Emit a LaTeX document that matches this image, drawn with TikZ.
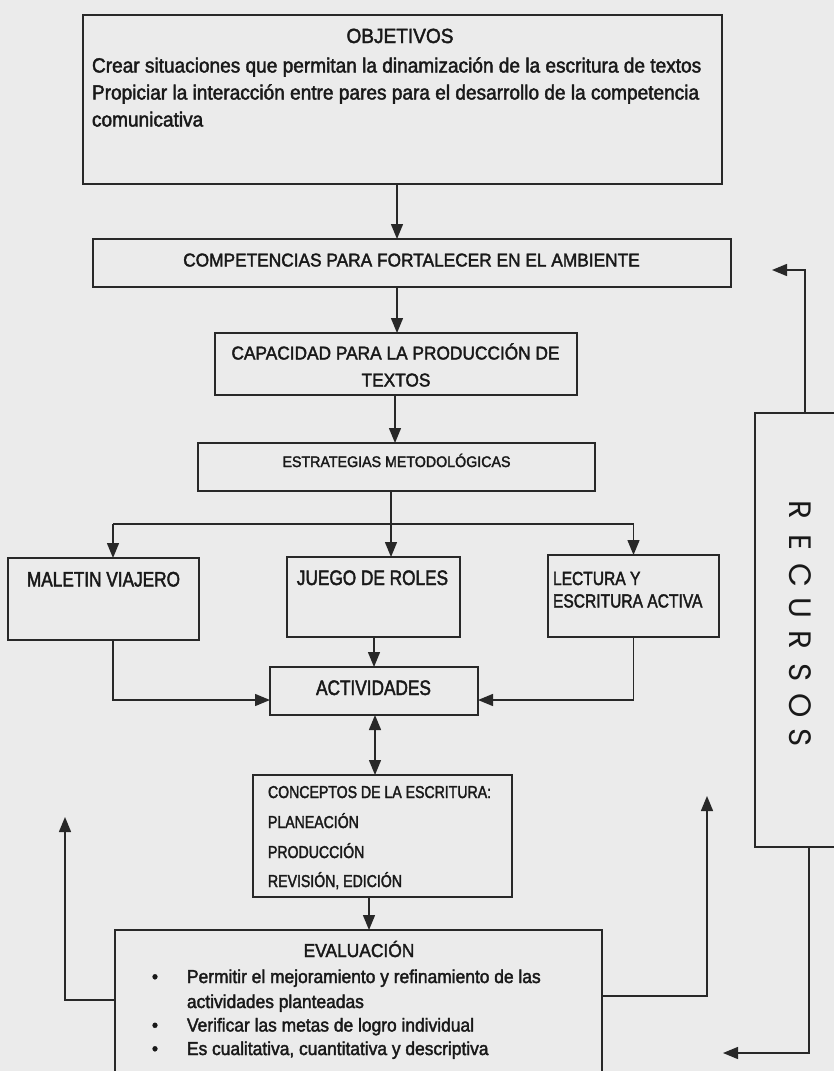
\documentclass[tikz,border=0pt]{standalone}
\usepackage{fontspec}
\setmainfont{Liberation Sans}[FakeStretch=0.93, FakeBold=2]
\newfontfamily\narrowf{Liberation Sans}[FakeStretch=0.82, FakeBold=2]
\newfontfamily\recfont{Poppins}
\usetikzlibrary{arrows.meta}
\definecolor{bg}{RGB}{235,235,235}
\definecolor{ink}{RGB}{40,40,40}
\definecolor{txt}{RGB}{25,25,25}
\tikzset{
  box/.style={draw=ink, line width=1.4pt, inner sep=0pt, outer sep=0pt},
  conn/.style={draw=ink, line width=1.4pt},
  arr/.style={conn, -{Triangle[length=15pt,width=12pt]}},
  darr/.style={conn, {Triangle[length=15pt,width=12pt]}-{Triangle[length=15pt,width=12pt]}},
  lbl/.style={inner sep=0pt, outer sep=0pt, text=txt, anchor=base},
  lblw/.style={lbl, anchor=base west},
}
\newcommand{\fs}[1]{\fontsize{#1}{#1}\selectfont}
\begin{document}
\begin{tikzpicture}[x=1pt,y=-1pt]
\useasboundingbox (0,0) rectangle (834,1071);
\clip (0,0) rectangle (834,1071);
\fill[bg] (0,0) rectangle (834,1071);

% boxes
\node[box, minimum width=639pt, minimum height=169pt] (obj) at (402.5,99.5) {};
\node[box, minimum width=638pt, minimum height=48pt] (comp) at (412,263) {};
\node[box, minimum width=362pt, minimum height=62pt] (cap) at (396,364) {};
\node[box, minimum width=397pt, minimum height=48pt] (est) at (396.5,467) {};
\node[box, minimum width=191pt, minimum height=82pt] (mal) at (103.5,599) {};
\node[box, minimum width=173pt, minimum height=80pt] (jue) at (373.5,597) {};
\node[box, minimum width=171pt, minimum height=82pt] (lec) at (633.5,596) {};
\node[box, minimum width=208pt, minimum height=48pt] (act) at (374,691) {};
\node[box, minimum width=259pt, minimum height=122pt] (con) at (382.5,836) {};
\node[box, minimum width=487pt, minimum height=170pt] (eva) at (358.5,1015) {};
\node[box, minimum width=125pt, minimum height=434pt] (rec) at (817.5,630) {};

% texts
\node[lbl, font=\fs{20.5}] (tobj) at (400,43) {OBJETIVOS};
\node[lblw, font=\fs{20.5}] (tobj1) at (92,72.5) {Crear situaciones que permitan la dinamización de la escritura de textos};
\node[lblw, font=\fs{20.5}] (tobj2) at (92,99.5) {Propiciar la interacción entre pares para el desarrollo de la competencia};
\node[lblw, font=\fs{20.5}] (tobj3) at (92,126.5) {comunicativa};
\node[lbl, font=\fs{18.6}] (tcomp) at (411.5,266.5) {COMPETENCIAS PARA FORTALECER EN EL AMBIENTE};
\node[lbl, font=\fs{18.6}] (tcap1) at (395.5,359.5) {CAPACIDAD PARA LA PRODUCCIÓN DE};
\node[lbl, font=\fs{18.6}] (tcap2) at (396,386.5) {TEXTOS};
\node[lbl, font=\fs{15.3}] (test) at (396.5,467) {ESTRATEGIAS METODOLÓGICAS};
\node[lbl, font=\narrowf\fs{21}] (tmal) at (103.5,586.5) {MALETIN VIAJERO};
\node[lbl, font=\narrowf\fs{21}] (tjue) at (372.5,585) {JUEGO DE ROLES};
\node[lblw, font=\narrowf\fs{19}] (tlec1) at (553,585) {LECTURA Y};
\node[lblw, font=\narrowf\fs{19}] (tlec2) at (553,607.5) {ESCRITURA ACTIVA};
\node[lbl, font=\narrowf\fs{21}] (tact) at (373.5,695) {ACTIVIDADES};
\node[lblw, font=\narrowf\fs{17.2}] (tcon1) at (268,798) {CONCEPTOS DE LA ESCRITURA:};
\node[lblw, font=\narrowf\fs{17.2}] (tcon2) at (268,828) {PLANEACIÓN};
\node[lblw, font=\narrowf\fs{17.2}] (tcon3) at (268,858) {PRODUCCIÓN};
\node[lblw, font=\narrowf\fs{17.2}] (tcon4) at (268,887) {REVISIÓN, EDICIÓN};
\node[lbl, font=\fs{18.7}] (teva) at (359,957) {EVALUACIÓN};
\node[lbl, font=\fs{18.7}] (b1) at (155,983) {•};
\node[lblw, font=\fs{18.7}] (teva1) at (187,983) {Permitir el mejoramiento y refinamiento de las};
\node[lblw, font=\fs{18.7}] (teva2) at (187,1008) {actividades planteadas};
\node[lbl, font=\fs{18.7}] (b2) at (155,1031.5) {•};
\node[lblw, font=\fs{18.7}] (teva3) at (187,1031.5) {Verificar las metas de logro individual};
\node[lbl, font=\fs{18.7}] (b3) at (155,1055) {•};
\node[lblw, font=\fs{18.7}] (teva4) at (187,1055) {Es cualitativa, cuantitativa y descriptiva};
\node[inner sep=0pt, text=txt, rotate=-90, font=\recfont\fs{31}] (trec) at (800,624)
  {\makebox[32.6pt]{R}\makebox[32.6pt]{E}\makebox[32.6pt]{C}\makebox[32.6pt]{U}\makebox[32.6pt]{R}\makebox[32.6pt]{S}\makebox[32.6pt]{O}\makebox[32.6pt]{S}};

% helper coordinates
\coordinate (xa) at (397,0);
\coordinate (xb) at (395,0);
\coordinate (xc) at (391,0);
\coordinate (xm) at (113,0);
\coordinate (xl) at (633.5,0);
\coordinate (xj) at (374,0);
\coordinate (xd) at (375,0);
\coordinate (xe) at (369,0);
\coordinate (hy) at (0,524);
\coordinate (ay) at (0,700);
\coordinate (lup) at (65,817);
\coordinate (lcorner) at (65,1000);
\coordinate (rup) at (707,796);
\coordinate (rcorner) at (707,996);
\coordinate (ttip) at (772,270);
\coordinate (tcorner) at (805,270);
\coordinate (btip) at (723,1053);
\coordinate (bcorner) at (809,1053);

% connectors
\draw[arr] (obj.south -| xa) -- (comp.north -| xa);
\draw[arr] (comp.south -| xa) -- (cap.north -| xa);
\draw[arr] (cap.south -| xb) -- (est.north -| xb);
\draw[arr] (est.south -| xc) -- (jue.north -| xc);
\draw[conn] (hy -| xm) -- (hy -| xl);
\draw[arr] (hy -| xm) -- (mal.north -| xm);
\draw[arr] (hy -| xl) -- (lec.north -| xl);
\draw[arr] (jue.south -| xj) -- (act.north -| xj);
\draw[arr] (mal.south -| xm) |- (act.west |- ay);
\draw[arr] (lec.south -| xl) |- (act.east |- ay);
\draw[darr] (act.south -| xd) -- (con.north -| xd);
\draw[arr] (con.south -| xe) -- (eva.north -| xe);
\draw[arr] (eva.west |- lcorner) -- (lcorner) -- (lup);
\draw[arr] (eva.east |- rcorner) -- (rcorner) -- (rup);
\draw[arr] (rec.north -| tcorner) -- (tcorner) -- (ttip);
\draw[arr] (rec.south -| bcorner) -- (bcorner) -- (btip);
\end{tikzpicture}
\end{document}
